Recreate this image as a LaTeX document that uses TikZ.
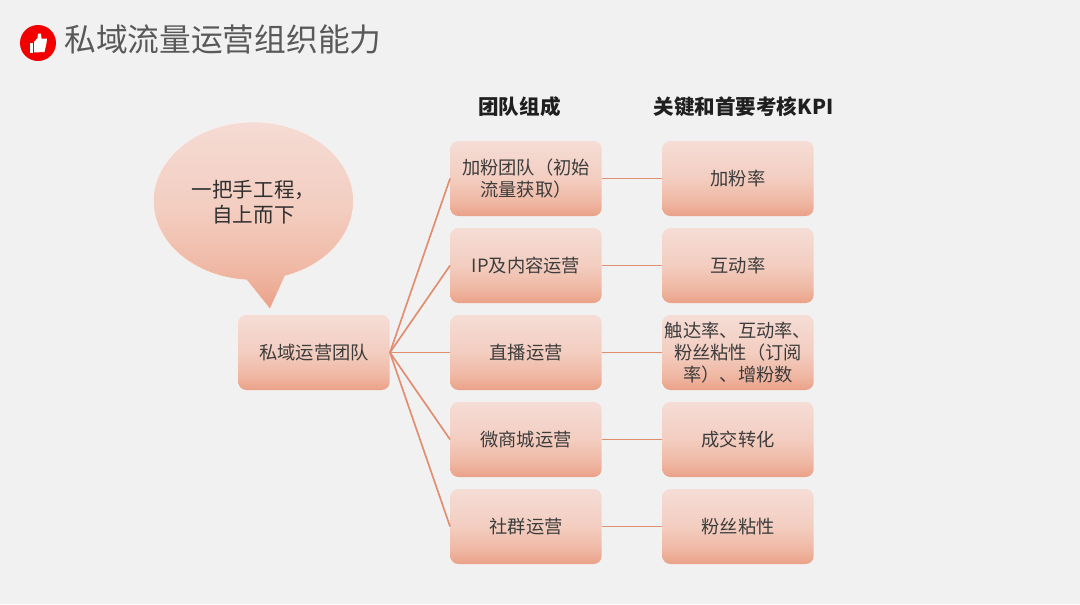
\documentclass[tikz,border=0pt]{standalone}
\usepackage{fontspec}
\setmainfont{Noto Sans CJK SC}
\usetikzlibrary{calc}
\definecolor{pagebg}{HTML}{F1F1F1}
\definecolor{linkc}{HTML}{E08D70}
\definecolor{txt}{HTML}{3C3C3C}
\definecolor{boxtop}{HTML}{F5DDD6}
\definecolor{boxmid}{HTML}{F3CDC0}
\definecolor{boxlow}{HTML}{EFB8A4}
\definecolor{boxbot}{HTML}{EAA188}
\pgfdeclareverticalshading{boxshade}{100bp}{
  color(0bp)=(boxbot); color(25bp)=(boxbot); color(35bp)=(boxlow); color(50bp)=(boxmid); color(75bp)=(boxtop); color(100bp)=(boxtop)}
\tikzset{
  boxnode/.style={rectangle,rounded corners=6pt,minimum width=113.5pt,minimum height=56.25pt,inner sep=0pt,
    shading=boxshade,align=center,text=txt,font=\fontsize{13.7pt}{16.5pt}\selectfont},
  link/.style={draw=linkc,line width=1.25pt},
  headnode/.style={text=black!88,align=center,inner sep=0pt,font=\fontsize{15.4pt}{18pt}\selectfont\bfseries},
  bubbletext/.style={text=txt!80!black,align=center,inner sep=0pt,font=\fontsize{15.4pt}{18.8pt}\selectfont},
  titlenode/.style={text=black!65,anchor=west,inner sep=0pt,font=\fontsize{23.8pt}{28pt}\selectfont}
}
\begin{document}
\begin{tikzpicture}[x=0.75pt,y=-0.75pt]
\useasboundingbox[fill=pagebg] (0,0) rectangle (1080,604);
% icon
\fill[red!95!black] (38,43) circle (18);
\fill[white] (30,42.5) rectangle (33,52.5);
\fill[white] (34,42) -- (37.5,38) -- (38,33.5) -- (41,33.5) -- (41.5,38.5) -- (47,38.5) -- (46.5,43) -- (44.5,52) -- (34,52.5) -- cycle;
% title
\node[titlenode] (title) at (64,39) {私域流量运营组织能力};
% bubble
\shade[shading=boxshade,draw=white!70!boxtop,line width=0.3pt]
  (270,309) -- (285,276) arc[start angle=71.6,end angle=-266,x radius=100,y radius=79] -- cycle;
\node[bubbletext] (bubbletxt) at (253.5,202) {一把手工程，\\自上而下};
% headers
\node[headnode] (h1) at (519.5,107) {团队组成};
\node[headnode] (h2) at (743.5,107) {关键和首要考核KPI};
% boxes
\node[boxnode] (root) at (314,352.5) {私域运营团队};
\node[boxnode] (a1) at (526,178.5) {加粉团队（初始\\流量获取）};
\node[boxnode] (a2) at (526,265.5) {IP及内容运营};
\node[boxnode] (a3) at (526,352.5) {直播运营};
\node[boxnode] (a4) at (526,439.5) {微商城运营};
\node[boxnode] (a5) at (526,526.5) {社群运营};
\node[boxnode] (b1) at (738,178.5) {加粉率};
\node[boxnode] (b2) at (738,265.5) {互动率};
\node[boxnode] (b3) at (738,352.5) {触达率、互动率、\\粉丝粘性（订阅\\率）、增粉数};
\node[boxnode] (b4) at (738,439.5) {成交转化};
\node[boxnode] (b5) at (738,526.5) {粉丝粘性};
% connectors
\foreach \i in {1,...,5}{
  \draw[link] (root.east) -- (a\i.west);
  \draw[link] (a\i.east) -- (b\i.west);
}
\end{tikzpicture}
\end{document}
